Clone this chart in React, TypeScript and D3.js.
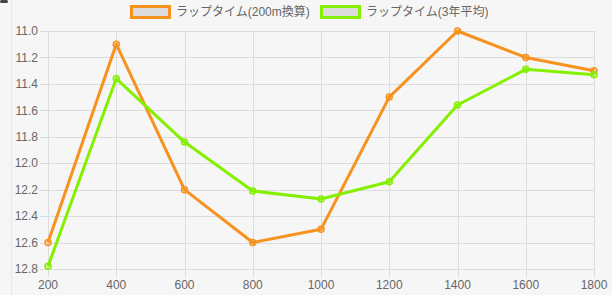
import React from "react";
import * as d3 from "d3";

const distances = [200, 400, 600, 800, 1000, 1200, 1400, 1600, 1800];
const lap200 = [12.6, 11.1, 12.2, 12.6, 12.5, 11.5, 11.0, 11.2, 11.3];
const lapAvg = [12.78, 11.36, 11.84, 12.21, 12.27, 12.14, 11.56, 11.29, 11.33];
const yTicks = [11.0, 11.2, 11.4, 11.6, 11.8, 12.0, 12.2, 12.4, 12.6, 12.8];
const seriesNames = ["ラップタイム(200m換算)", "ラップタイム(3年平均)"];

const W = 612, H = 295;
const left = 48, right = 594, top = 31, bottom = 269;
const font = "'Liberation Sans', Arial, 'Noto Sans CJK JP', sans-serif";

export default function App() {
  const x = d3.scaleLinear().domain([200, 1800]).range([left, right]);
  const y = d3.scaleLinear().domain([11.0, 12.8]).range([top, bottom]);
  const line = d3.line<number>().x((_, i) => x(distances[i])).y((d) => y(d));
  const series = [
    { name: seriesNames[0], data: lap200, color: "#f7921e", fill: "rgba(247,146,30,0.25)" },
    { name: seriesNames[1], data: lapAvg, color: "#84f000", fill: "rgba(132,240,0,0.25)" },
  ];
  const legendX = [130, 320];
  return (
    <div style={{ position: "fixed", left: 0, top: 0, width: W, height: H }}>
      <svg width={W} height={H} style={{ display: "block", background: "#f6f6f6" }}>
        <rect x={0} y={0} width={8} height={3} rx={1.5} fill="#444" />
        <line x1={11.5} x2={11.5} y1={0} y2={H} stroke="#e6e6e6" />
        {yTicks.map((t) => (
          <g key={"y" + t}>
            <line x1={left - 8} x2={right} y1={Math.round(y(t)) + 0.5} y2={Math.round(y(t)) + 0.5} stroke="#dcdcdc" />
            <text x={38} y={y(t)} dy="0.35em" textAnchor="end" fontFamily={font} fontSize={12} fill="#666">
              {t.toFixed(1)}
            </text>
          </g>
        ))}
        {distances.map((d) => (
          <g key={"x" + d}>
            <line x1={Math.round(x(d)) + 0.5} x2={Math.round(x(d)) + 0.5} y1={top} y2={bottom + 8} stroke="#dcdcdc" />
            <text x={x(d)} y={bottom + 20} textAnchor="middle" fontFamily={font} fontSize={12} fill="#666">
              {d}
            </text>
          </g>
        ))}
        {series.map((s) => (
          <g key={s.name}>
            <path d={line(s.data) || ""} fill="none" stroke={s.color} strokeWidth={3} strokeLinejoin="round" />
            {s.data.map((v, i) => (
              <circle key={i} cx={x(distances[i])} cy={y(v)} r={3} fill={s.fill} stroke={s.color} strokeWidth={1.5} />
            ))}
          </g>
        ))}
        {series.map((s, i) => (
          <g key={"lg" + i}>
            <rect x={legendX[i] + 1.5} y={6.5} width={38} height={11} fill="#dcdcdc" stroke={s.color} strokeWidth={3} />
            <text x={legendX[i] + 46} y={12} dy="0.35em" fontFamily={font} fontSize={12} fill="#666">
              {s.name}
            </text>
          </g>
        ))}
      </svg>
    </div>
  );
}
